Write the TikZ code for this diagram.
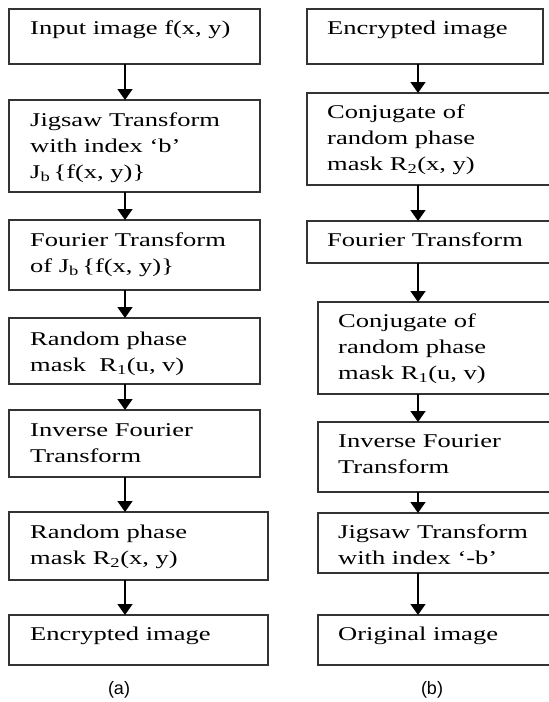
\documentclass[tikz,border=0pt]{standalone}
\usepackage{fontspec}
\setmainfont{Liberation Serif}[FakeStretch=1.36]
\newfontfamily\capfont{Liberation Sans}
\usetikzlibrary{arrows.meta}

\tikzset{
  stage/.style={draw=black!80, line width=1.5pt, fill=white, inner sep=0pt, outer sep=0pt, anchor=north west},
  stagetext/.style={anchor=base west, align=left, inner sep=0pt, font=\fontsize{19.5}{26}\selectfont},
  flow/.style={-{Triangle[width=15pt,length=11pt]}, line width=1.5pt},
  caption/.style={font=\capfont\fontsize{18}{20}\selectfont}
}

\begin{document}
\begin{tikzpicture}[x=1pt, y=-1pt]
    \fill[white] (0,0) rectangle (549,702);
    \clip (0,0) rectangle (549,702);

    % encryption (a)
    \node[stage, minimum width=251, minimum height=55] (L1) at (9,9) {};
    \node[stage, minimum width=251, minimum height=92] (L2) at (9,100) {};
    \node[stage, minimum width=251, minimum height=70] (L3) at (9,220) {};
    \node[stage, minimum width=251, minimum height=66] (L4) at (9,318) {};
    \node[stage, minimum width=251, minimum height=67] (L5) at (9,410) {};
    \node[stage, minimum width=259, minimum height=68] (L6) at (9,512) {};
    \node[stage, minimum width=259, minimum height=50] (L7) at (9,615) {};

    % anchor is the baseline of the last line
    \node[stagetext] (L1t) at ([shift={(21,25)}]L1.north west) {Input image f(x, y)};
    \node[stagetext] (L2t) at ([shift={(21,78)}]L2.north west) {Jigsaw Transform\\with index `b'\\J\textsubscript{b}\,\{f(x, y)\}};
    \node[stagetext] (L3t) at ([shift={(21,52)}]L3.north west) {Fourier Transform\\of J\textsubscript{b}\,\{f(x, y)\}};
    \node[stagetext] (L4t) at ([shift={(21,53)}]L4.north west) {Random phase\\mask\ \ R\textsubscript{1}(u, v)};
    \node[stagetext] (L5t) at ([shift={(21,52)}]L5.north west) {Inverse Fourier\\Transform};
    \node[stagetext] (L6t) at ([shift={(21,52)}]L6.north west) {Random phase\\mask R\textsubscript{2}(x, y)};
    \node[stagetext] (L7t) at ([shift={(21,25)}]L7.north west) {Encrypted image};

    \coordinate (colL) at (125,0);
    \foreach \a/\b in {L1/L2, L2/L3, L3/L4, L4/L5, L5/L6, L6/L7}
        \draw[flow] (\a.south -| colL) -- (\b.north -| colL);

    % decryption (b)
    \node[stage, minimum width=236, minimum height=55] (R1) at (307,9) {};
    \node[stage, minimum width=250, minimum height=92] (R2) at (307,93) {};
    \node[stage, minimum width=250, minimum height=42] (R3) at (307,221) {};
    \node[stage, minimum width=240, minimum height=92] (R4) at (318,302) {};
    \node[stage, minimum width=240, minimum height=70] (R5) at (318,422) {};
    \node[stage, minimum width=240, minimum height=60] (R6) at (318,513) {};
    \node[stage, minimum width=240, minimum height=50] (R7) at (318,615) {};

    \node[stagetext] (R1t) at ([shift={(20,25)}]R1.north west) {Encrypted image};
    \node[stagetext] (R2t) at ([shift={(20,77)}]R2.north west) {Conjugate of\\random phase\\mask R\textsubscript{2}(x, y)};
    \node[stagetext] (R3t) at ([shift={(20,25)}]R3.north west) {Fourier Transform};
    \node[stagetext] (R4t) at ([shift={(20,77)}]R4.north west) {Conjugate of\\random phase\\mask R\textsubscript{1}(u, v)};
    \node[stagetext] (R5t) at ([shift={(20,51)}]R5.north west) {Inverse Fourier\\Transform};
    \node[stagetext] (R6t) at ([shift={(20,51)}]R6.north west) {Jigsaw Transform\\with index `-b'};
    \node[stagetext] (R7t) at ([shift={(20,25)}]R7.north west) {Original image};

    \coordinate (colR) at (418,0);
    \foreach \a/\b in {R1/R2, R2/R3, R3/R4, R4/R5, R5/R6, R6/R7}
        \draw[flow] (\a.south -| colR) -- (\b.north -| colR);

    \node[caption] (capa) at (119,690) {(a)};
    \node[caption] (capb) at (432,690) {(b)};
\end{tikzpicture}
\end{document}
